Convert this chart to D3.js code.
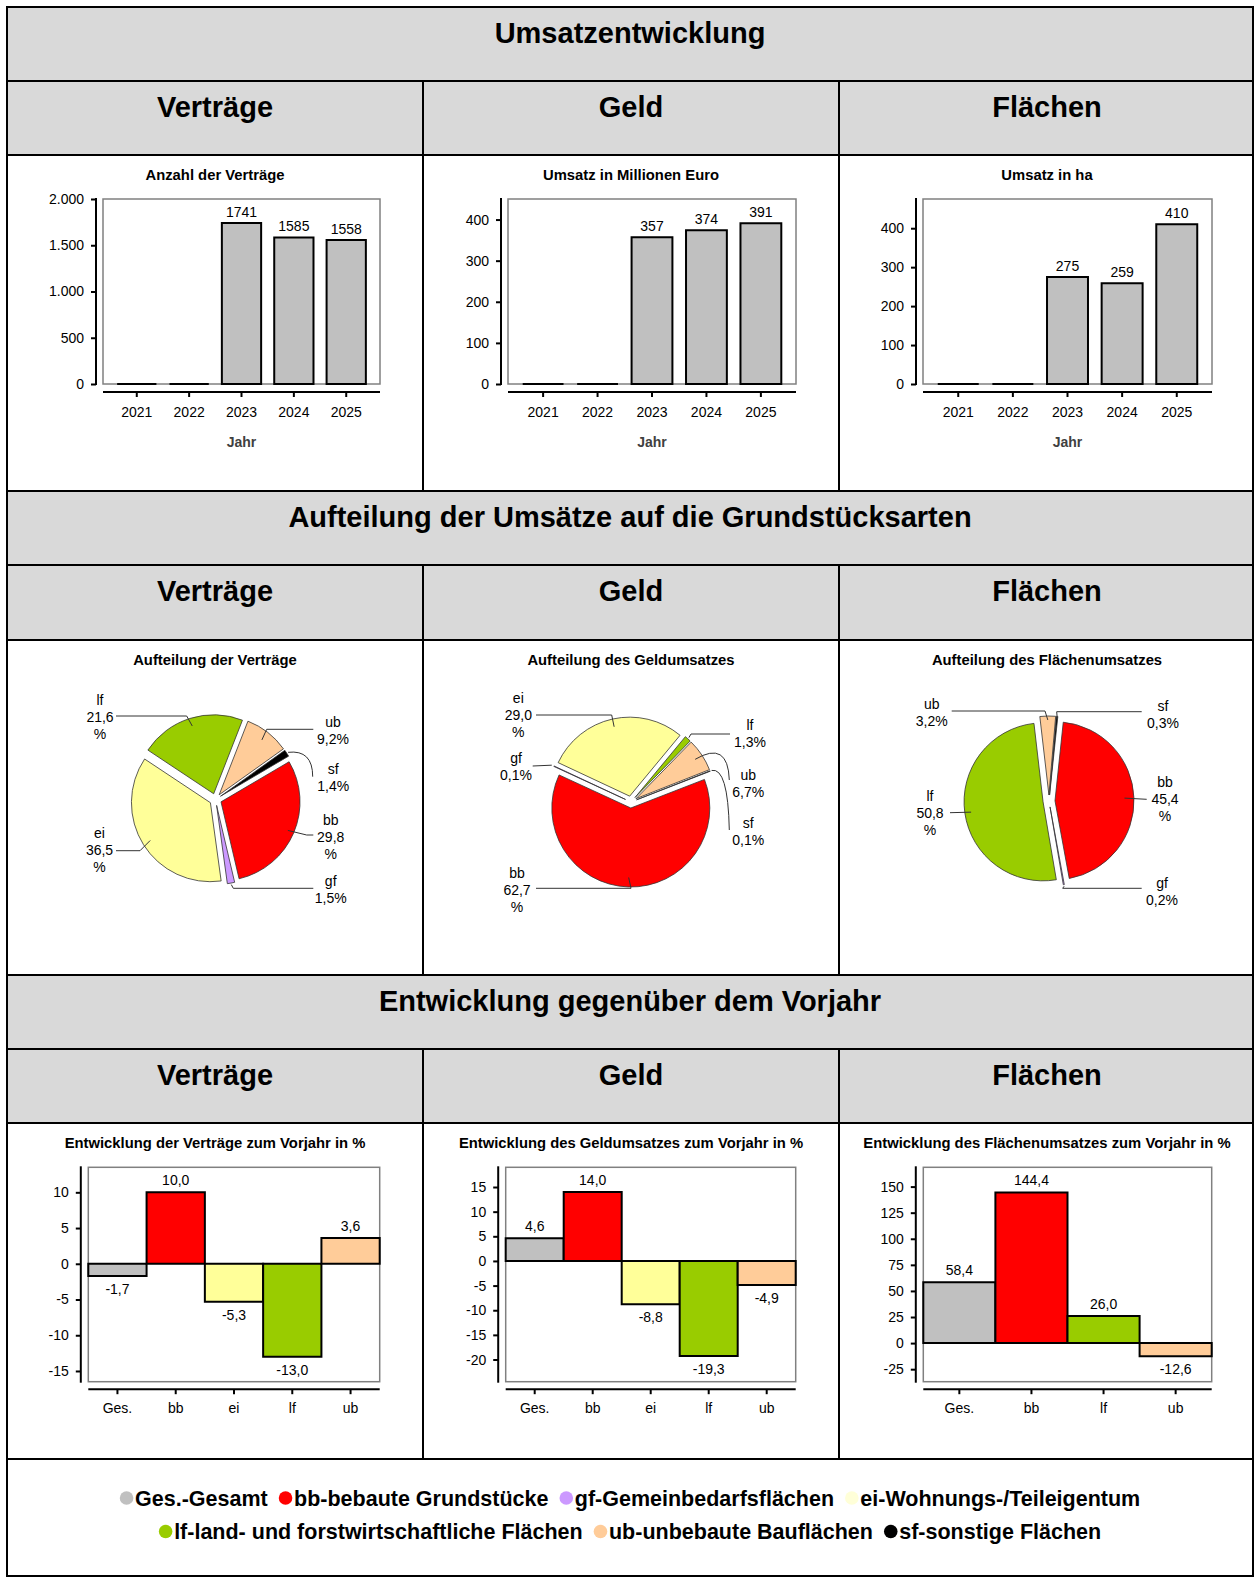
<!DOCTYPE html>
<html><head><meta charset="utf-8">
<script src="https://cdn.jsdelivr.net/npm/d3@7"></script>
<style>
body{margin:0;background:#fff}
svg{display:block}
text{font-family:"Liberation Sans",Arial,Helvetica,sans-serif}
</style>
</head><body>
<svg id="c" width="1255" height="1578"></svg>
<script>
// ---------------- DATA ----------------
const sectionTitles = ["Umsatzentwicklung", "Aufteilung der Umsätze auf die Grundstücksarten", "Entwicklung gegenüber dem Vorjahr"];
const headerLabels = ["Verträge", "Geld", "Flächen"];

const years = ["2021", "2022", "2023", "2024", "2025"];
const anzahlVertraege = [0, 0, 1741, 1585, 1558];
const umsatzMioEuro = [0, 0, 357, 374, 391];
const umsatzHa = [0, 0, 275, 259, 410];
const yearChartTitles = ["Anzahl der Verträge", "Umsatz in Millionen Euro", "Umsatz in ha"];
const yearTicksVertraege = [0, 500, 1000, 1500, 2000];
const yearTicksGeld = [0, 100, 200, 300, 400];
const yearTicksFlaechen = [0, 100, 200, 300, 400];
const xAxisTitle = "Jahr";

const typeKeys = ["bb", "gf", "ei", "lf", "ub", "sf"];
const pieVertraege = [29.8, 1.5, 36.5, 21.6, 9.2, 1.4];
const pieGeld = [62.7, 0.1, 29.0, 1.3, 6.7, 0.1];
const pieFlaechen = [45.4, 0.2, 0, 50.8, 3.2, 0.3];
const pieTitles = ["Aufteilung der Verträge", "Aufteilung des Geldumsatzes", "Aufteilung des Flächenumsatzes"];

const devCatsVG = ["Ges.", "bb", "ei", "lf", "ub"];
const devCatsF = ["Ges.", "bb", "lf", "ub"];
const devVertraege = [-1.7, 10.0, -5.3, -13.0, 3.6];
const devGeld = [4.6, 14.0, -8.8, -19.3, -4.9];
const devFlaechen = [58.4, 144.4, 26.0, -12.6];
const devTicksVertraege = [-15, -10, -5, 0, 5, 10];
const devTicksGeld = [-20, -15, -10, -5, 0, 5, 10, 15];
const devTicksFlaechen = [-25, 0, 25, 50, 75, 100, 125, 150];
const devTitles = ["Entwicklung der Verträge zum Vorjahr in %", "Entwicklung des Geldumsatzes zum Vorjahr in %", "Entwicklung des Flächenumsatzes zum Vorjahr in %"];

const legendKeys = ["Ges.", "bb", "gf", "ei", "lf", "ub", "sf"];
const legendLabels = ["Ges.-Gesamt", "bb-bebaute Grundstücke", "gf-Gemeinbedarfsflächen", "ei-Wohnungs-/Teileigentum",
                      "lf-land- und forstwirtschaftliche Flächen", "ub-unbebaute Bauflächen", "sf-sonstige Flächen"];
const legendLines = [[0, 1, 2, 3], [4, 5, 6]];

// ---------------- STYLE / LAYOUT ----------------
const colors = {"Ges.": "#C0C0C0", bb: "#FF0000", gf: "#CC99FF", ei: "#FFFF99", lf: "#99CC00", ub: "#FFCC99", sf: "#000000"};
const legendColors = Object.assign({}, colors, {ei: "#FFFFD8"});
const FONT = '"Liberation Sans",Arial,Helvetica,sans-serif';
const colX = [7, 423, 839];
const tableRight = 1253;
const rowY = [7, 81, 155, 491, 565, 640, 975, 1049, 1123, 1459, 1576];

const de = d3.formatLocale({decimal: ",", thousands: ".", grouping: [3], currency: ["", " €"], minus: "-"});
const fmtInt = de.format(",d");
const fmt1 = de.format(".1f");

const svg = d3.select("#c");
svg.append("rect").attr("width", 1255).attr("height", 1578).attr("fill", "#fff");

// ---------------- TABLE ----------------
[0, 1, 3, 4, 6, 7].forEach(i => {
  svg.append("rect").attr("x", 7).attr("y", rowY[i]).attr("width", tableRight - 7)
    .attr("height", rowY[i + 1] - rowY[i]).attr("fill", "#D9D9D9");
});
const lines = svg.append("g").attr("stroke", "#000").attr("stroke-width", 2);
rowY.forEach(y => lines.append("line").attr("x1", 6).attr("x2", tableRight + 1).attr("y1", y).attr("y2", y));
[7, tableRight].forEach(x => lines.append("line").attr("x1", x).attr("x2", x).attr("y1", rowY[0]).attr("y2", rowY[10]));
[[1, 3], [4, 6], [7, 9]].forEach(([a, b]) => [423, 839].forEach(x =>
  lines.append("line").attr("x1", x).attr("x2", x).attr("y1", rowY[a]).attr("y2", rowY[b])));

[0, 3, 6].forEach((r, i) => {
  svg.append("text").attr("x", (7 + tableRight) / 2).attr("y", rowY[r] + 36)
    .attr("text-anchor", "middle").attr("font-size", 29).attr("font-weight", "bold").text(sectionTitles[i]);
});
[1, 4, 7].forEach(r => headerLabels.forEach((h, c) => {
  svg.append("text").attr("x", colX[c] + 208).attr("y", rowY[r] + 36)
    .attr("text-anchor", "middle").attr("font-size", 29).attr("font-weight", "bold").text(h);
}));

function chartTitle(c, row, t) {
  svg.append("text").attr("x", colX[c] + 208).attr("y", rowY[row] + 24.5)
    .attr("text-anchor", "middle").attr("font-size", 14.8).attr("font-weight", "bold").text(t);
}

function styleAxis(g) {
  g.selectAll(".tick line").attr("stroke", "#000").attr("stroke-width", 2);
  g.selectAll(".tick text").attr("font-family", FONT).attr("font-size", 14).attr("fill", "#000");
  g.select(".domain").remove();
}

function barPath(x0, y0, w, y1) {
  const p = d3.path();
  p.moveTo(x0, y0); p.lineTo(x0 + w, y0); p.lineTo(x0 + w, y1); p.lineTo(x0, y1); p.closePath();
  return p.toString();
}

// ---------------- YEAR BAR CHARTS ----------------
function yearBars(c, vals, ticks, yMax, boxLeft) {
  const left = colX[c] + boxLeft, right = colX[c] + 373, top = 199, bottom = 384;
  chartTitle(c, 2, yearChartTitles[c]);
  const x = d3.scaleBand().domain(years).range([left, right]).paddingInner(0.25).paddingOuter(0.27);
  const y = d3.scaleLinear().domain([0, yMax]).range([bottom, top]);
  svg.append("rect").attr("x", left).attr("y", top).attr("width", right - left).attr("height", bottom - top)
    .attr("fill", "#fff").attr("stroke", "#808080").attr("stroke-width", 1.5);
  const g = svg.append("g");
  g.selectAll("path").data(vals).join("path")
    .attr("d", (d, i) => barPath(x(years[i]), y(0), x.bandwidth(), y(d)))
    .attr("fill", "#C0C0C0").attr("stroke", "#000").attr("stroke-width", 2);
  g.selectAll("text").data(vals.map((v, i) => ({v, i})).filter(d => d.v > 0)).join("text")
    .attr("x", d => x(years[d.i]) + x.bandwidth() / 2).attr("y", d => y(d.v) - 6)
    .attr("text-anchor", "middle").attr("font-size", 14).text(d => d.v);
  const ya = svg.append("g").attr("transform", `translate(${left - 7},0)`)
    .call(d3.axisLeft(y).tickValues(ticks).tickSize(5).tickPadding(7).tickFormat(fmtInt));
  styleAxis(ya);
  svg.append("line").attr("x1", left - 7).attr("x2", left - 7).attr("y1", top - 1).attr("y2", bottom + 1)
    .attr("stroke", "#000").attr("stroke-width", 2);
  const xa = svg.append("g").attr("transform", `translate(0,${bottom + 8})`)
    .call(d3.axisBottom(x).tickSize(5).tickPadding(10));
  styleAxis(xa);
  svg.append("line").attr("x1", left).attr("x2", right).attr("y1", bottom + 8).attr("y2", bottom + 8)
    .attr("stroke", "#000").attr("stroke-width", 2);
  svg.append("text").attr("x", (left + right) / 2).attr("y", 447).attr("text-anchor", "middle")
    .attr("font-size", 14).attr("font-weight", "bold").attr("fill", "#404040").text(xAxisTitle);
}
yearBars(0, anzahlVertraege, yearTicksVertraege, 2000, 96);
yearBars(1, umsatzMioEuro, yearTicksGeld, 450, 85);
yearBars(2, umsatzHa, yearTicksFlaechen, 475, 84);

// ---------------- PIES ----------------
const R = 79, EX = 6;
const pieLayouts = [
  {center: [215.5, 799.5], start: 59.5, labels: [
    {key: "lf", tx: -115.5, ty: -95, lines: ["lf", "21,6", "%"], pts: [[-99.5, -83.5], [-28.8, -83.5]], k: 0.9},
    {key: "ub", tx: 117.5, ty: -73, lines: ["ub", "9,2%"], pts: [[97.8, -70.2], [51.2, -70.2]], k: 0.88},
    {key: "sf", tx: 117.8, ty: -25.5, lines: ["sf", "1,4%"], pts: [[97.2, -22.8]], ctrl: [97.2, -50], k: 1.02},
    {key: "bb", tx: 115.2, ty: 25.5, lines: ["bb", "29,8", "%"], pts: [[97.8, 35.5], [91.2, 35.5]], k: 0.92},
    {key: "gf", tx: 115.2, ty: 86.5, lines: ["gf", "1,5%"], pts: [[97.8, 88.8], [17.8, 88.8]], k: 1.02},
    {key: "ei", tx: -116, ty: 38.5, lines: ["ei", "36,5", "%"], pts: [[-99.5, 51.2], [-75.5, 51.2]], k: 0.9}
  ]},
  {center: [631, 802], start: 68.8, labels: [
    {key: "ei", tx: -112.7, ty: -99, lines: ["ei", "29,0", "%"], pts: [[-95, -87], [-19.3, -87]], k: 0.9},
    {key: "gf", tx: -115, ty: -39, lines: ["gf", "0,1%"], pts: [[-98.3, -36]], k: 1.03},
    {key: "lf", tx: 119, ty: -72, lines: ["lf", "1,3%"], pts: [[99, -68], [60, -68]], k: 1.02},
    {key: "ub", tx: 117.3, ty: -22, lines: ["ub", "6,7%"], pts: [[98.3, -22]], ctrl: [97, -62], k: 0.9},
    {key: "sf", tx: 117.3, ty: 25.7, lines: ["sf", "0,1%"], pts: [[98.3, 28]], ctrl: [97, -35], k: 1.02},
    {key: "bb", tx: -114, ty: 76, lines: ["bb", "62,7", "%"], pts: [[-95, 86.3], [0, 86.3]], k: 0.88}
  ]},
  {center: [1049, 801], start: 6, labels: [
    {key: "ub", tx: -117.3, ty: -92, lines: ["ub", "3,2%"], pts: [[-97.3, -90], [-4, -90]], k: 0.95},
    {key: "sf", tx: 114, ty: -90, lines: ["sf", "0,3%"], pts: [[92.7, -89.3], [7.7, -89.3]], k: 1.0},
    {key: "bb", tx: 116, ty: -14.3, lines: ["bb", "45,4", "%"], pts: [[97.7, -1.7]], k: 0.88},
    {key: "lf", tx: -119, ty: 0, lines: ["lf", "50,8", "%"], pts: [[-99, 11.7]], k: 0.92},
    {key: "gf", tx: 113, ty: 87, lines: ["gf", "0,2%"], pts: [[92.7, 87.3], [13.7, 87.3]], k: 1.02}
  ]}
];

function pieChart(c, vals) {
  const L = pieLayouts[c];
  chartTitle(c, 5, pieTitles[c]);
  const data = typeKeys.map((k, i) => ({key: k, v: vals[i]})).filter(d => d.v > 0);
  const s = L.start * Math.PI / 180;
  const arcs = d3.pie().sort(null).value(d => d.v).startAngle(s).endAngle(s + 2 * Math.PI)(data);
  const arc = d3.arc().innerRadius(0).outerRadius(R);
  const g = svg.append("g").attr("transform", `translate(${L.center[0]},${L.center[1]})`);
  g.selectAll("path.slice").data(arcs).join("path").attr("class", "slice")
    .attr("d", arc)
    .attr("transform", a => {
      const m = (a.startAngle + a.endAngle) / 2;
      return `translate(${Math.sin(m) * EX},${-Math.cos(m) * EX})`;
    })
    .attr("fill", a => colors[a.data.key]).attr("stroke", "#333").attr("stroke-width", 0.8)
    .attr("stroke-linejoin", "round");
  L.labels.forEach(lb => {
    const a = arcs.find(d => d.data.key === lb.key);
    const m = (a.startAngle + a.endAngle) / 2;
    const dist = EX + R * lb.k;
    const tip = [Math.sin(m) * dist, -Math.cos(m) * dist];
    let d;
    if (lb.ctrl) {
      d = `M${lb.pts[0][0]},${lb.pts[0][1]} Q${lb.ctrl[0]},${lb.ctrl[1]} ${tip[0]},${tip[1]}`;
    } else {
      d = "M" + lb.pts.concat([tip]).map(p => p.join(",")).join(" L");
    }
    g.append("path").attr("d", d).attr("fill", "none").attr("stroke", "#333").attr("stroke-width", 1);
    const t = g.append("text").attr("text-anchor", "middle").attr("font-size", 14);
    lb.lines.forEach((ln, i) => t.append("tspan").attr("x", lb.tx).attr("y", lb.ty + i * 17).text(ln));
  });
}
pieChart(0, pieVertraege);
pieChart(1, pieGeld);
pieChart(2, pieFlaechen);

// ---------------- DEVELOPMENT BAR CHARTS ----------------
function devBars(c, cats, vals, ticks, domain, boxLeft) {
  const left = colX[c] + boxLeft, right = colX[c] + 372.7, top = 1167.3, bottom = 1381.7;
  chartTitle(c, 8, devTitles[c]);
  const x = d3.scaleBand().domain(cats).range([left, right]).padding(0);
  const y = d3.scaleLinear().domain(domain).range([bottom, top]);
  svg.append("rect").attr("x", left).attr("y", top).attr("width", right - left).attr("height", bottom - top)
    .attr("fill", "#fff").attr("stroke", "#808080").attr("stroke-width", 1.5);
  const g = svg.append("g");
  const dd = vals.map((v, i) => ({v, cat: cats[i]}));
  g.selectAll("path").data(dd).join("path")
    .attr("d", d => barPath(x(d.cat), y(0), x.bandwidth(), y(d.v)))
    .attr("fill", d => colors[d.cat]).attr("stroke", "#000").attr("stroke-width", 2);
  g.selectAll("text").data(dd).join("text")
    .attr("x", d => x(d.cat) + x.bandwidth() / 2)
    .attr("y", d => d.v >= 0 ? y(d.v) - 7 : y(d.v) + 18)
    .attr("text-anchor", "middle").attr("font-size", 14).text(d => fmt1(d.v));
  const ya = svg.append("g").attr("transform", `translate(${left - 7.5},0)`)
    .call(d3.axisLeft(y).tickValues(ticks).tickSize(5).tickPadding(7).tickFormat(de.format("d")));
  styleAxis(ya);
  svg.append("line").attr("x1", left - 7.5).attr("x2", left - 7.5).attr("y1", top - 1).attr("y2", bottom + 1)
    .attr("stroke", "#000").attr("stroke-width", 2);
  const xa = svg.append("g").attr("transform", `translate(0,${bottom + 7.5})`)
    .call(d3.axisBottom(x).tickSize(5).tickPadding(9));
  styleAxis(xa);
  svg.append("line").attr("x1", left).attr("x2", right).attr("y1", bottom + 7.5).attr("y2", bottom + 7.5)
    .attr("stroke", "#000").attr("stroke-width", 2);
}
devBars(0, devCatsVG, devVertraege, devTicksVertraege, [-16.5, 13.5], 81.3);
devBars(1, devCatsVG, devGeld, devTicksGeld, [-24.5, 19], 82.7);
devBars(2, devCatsF, devFlaechen, devTicksFlaechen, [-37, 168.5], 84.3);

// ---------------- LEGEND ----------------
const legendBaselines = [1505.5, 1539];
legendLines.forEach((idxs, li) => {
  const g = svg.append("g");
  let xpos = 0;
  idxs.forEach((k, j) => {
    const key = legendKeys[k];
    g.append("circle").attr("cx", xpos + 6.8).attr("cy", legendBaselines[li] - 7.5).attr("r", 6.8)
      .attr("fill", legendColors[key]);
    xpos += 15.3;
    const t = g.append("text").attr("x", xpos).attr("y", legendBaselines[li])
      .attr("font-size", 21.5).attr("font-weight", "bold").text(legendLabels[k]);
    xpos += t.node().getComputedTextLength();
    if (j < idxs.length - 1) xpos += 11;
  });
  g.attr("transform", `translate(${(7 + tableRight) / 2 - xpos / 2},0)`);
});
</script>
</body></html>
